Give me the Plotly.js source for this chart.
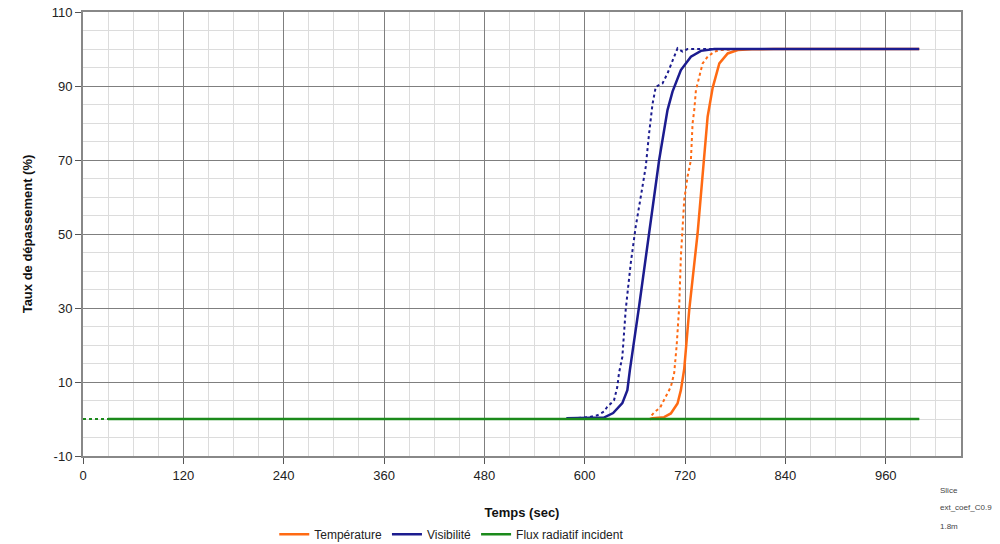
<!DOCTYPE html>
<html>
<head>
<meta charset="utf-8">
<script src="https://cdn.plot.ly/plotly-3.0.1.min.js"></script>
<style>html,body{margin:0;padding:0;background:#fff;}#chart{width:1000px;height:544px;}</style>
</head>
<body>
<div id="chart"></div>
<script>
// Temperature (solid)
const tempX = [678, 681, 695, 703, 711, 715, 719, 725, 735, 743, 747, 753, 761, 771, 783, 800, 826, 1000];
const tempY = [0, 0.2, 0.5, 1.5, 4.2, 7.8, 13.5, 29.5, 50.2, 70.9, 81.7, 89.5, 96.1, 98.8, 99.7, 99.9, 100, 100];
// Temperature (dotted)
const tempDotX = [680, 684, 690, 695, 699, 703, 707, 710, 713, 715, 719, 723, 727, 729, 731, 733, 735, 741, 747, 755, 763, 790, 1000];
const tempDotY = [1.0, 2.0, 3.0, 5.1, 6.9, 8.7, 12.4, 20, 30.4, 43.9, 59.2, 65.5, 70, 79.9, 83.5, 88.9, 90.7, 96.1, 97.9, 99.3, 99.7, 100, 100];
// Visibility (solid)
const visX = [578, 600, 623, 634, 645, 651, 654, 665, 677, 689, 699, 705, 715, 727, 739, 755, 1000];
const visY = [0.2, 0.2, 0.4, 1.6, 4.3, 7.8, 13.2, 30.4, 50.2, 70, 83.5, 88.5, 94.3, 97.9, 99.5, 100, 100];
// Visibility (dotted)
const visDotX = [592, 605, 615, 623, 627, 631, 635, 639, 641, 645, 649, 655, 661, 667, 673, 677, 681, 685, 693, 699, 705, 711, 717, 723, 760, 1000];
const visDotY = [0.3, 0.5, 1.0, 2.0, 3.3, 4.3, 5.0, 8.7, 12.4, 16.8, 29.5, 42, 52, 60, 68.2, 77.2, 85, 89.8, 90.7, 93.4, 97, 100.2, 99.3, 100, 100, 100];
// Flux radiatif incident
const fluxDotX = [0, 1000];
const fluxDotY = [0, 0];
const fluxX = [30, 1000];
const fluxY = [0, 0];

const names = ['Température', 'Visibilité', 'Flux radiatif incident'];
const yTickVals = [-10, 10, 30, 50, 70, 90, 110];
const yTickText = ['-10', '10', '30', '50', '70', '90', '110'];
const cOrange = '#ff6a13', cBlue = '#1c1c8f', cGreen = '#1b8a1b';

const traces = [
  {x: tempDotX, y: tempDotY, mode: 'lines', line: {color: cOrange, width: 2, dash: 'dot'}, showlegend: false, hoverinfo: 'skip'},
  {x: visDotX, y: visDotY, mode: 'lines', line: {color: cBlue, width: 2, dash: 'dot'}, showlegend: false, hoverinfo: 'skip'},
  {x: fluxDotX, y: fluxDotY, mode: 'lines', line: {color: cGreen, width: 2, dash: 'dot'}, showlegend: false, hoverinfo: 'skip'},
  {x: tempX, y: tempY, name: names[0], mode: 'lines', line: {color: cOrange, width: 2.5}},
  {x: visX, y: visY, name: names[1], mode: 'lines', line: {color: cBlue, width: 2.5}},
  {x: fluxX, y: fluxY, name: names[2], mode: 'lines', line: {color: cGreen, width: 2.5}}
];

const font = {family: 'Liberation Sans, Arial, sans-serif', color: '#222'};

const layout = {
  width: 1000, height: 544,
  margin: {l: 83, r: 39, t: 12, b: 88},
  paper_bgcolor: '#fff', plot_bgcolor: '#fff',
  font: font,
  showlegend: true,
  legend: {orientation: 'h', x: 0.42, xanchor: 'center', yref: 'container', y: 0.018, yanchor: 'middle',
           font: {family: font.family, size: 12, color: '#222'}, traceorder: 'normal', itemwidth: 30},
  xaxis: {
    range: [0, 1050], tick0: 0, dtick: 120, tickmode: 'linear', automargin: false,
    showgrid: true, gridcolor: '#7f7f7f', gridwidth: 1,
    minor: {dtick: 30, showgrid: true, gridcolor: '#dcdcdc', gridwidth: 1},
    showline: true, linecolor: '#888', linewidth: 2, mirror: true,
    ticks: 'outside', ticklen: 6, tickcolor: '#555',
    tickfont: {family: font.family, size: 13, color: '#222'},
    zeroline: false,
    title: {text: '<b>Temps (sec)</b>', font: {family: font.family, size: 13, color: '#111'}, standoff: 26}
  },
  yaxis: {
    range: [-10, 110], tickmode: 'array', tickvals: yTickVals, ticktext: yTickText, automargin: false,
    showgrid: true, gridcolor: '#7f7f7f', gridwidth: 1,
    minor: {dtick: 5, tick0: 0, showgrid: true, gridcolor: '#dcdcdc', gridwidth: 1},
    showline: true, linecolor: '#888', linewidth: 2, mirror: true,
    ticks: 'outside', ticklen: 6, tickcolor: '#555',
    tickfont: {family: font.family, size: 13, color: '#222'},
    zeroline: false,
    title: {text: '<b>Taux de dépassement (%)</b>', font: {family: font.family, size: 13, color: '#111'}, standoff: 16}
  },
  annotations: [
    {xref: 'paper', yref: 'paper', x: 0.974, y: -0.077, xanchor: 'left', yanchor: 'middle', text: 'Slice', showarrow: false, font: {family: font.family, size: 8, color: '#444'}},
    {xref: 'paper', yref: 'paper', x: 0.974, y: -0.117, xanchor: 'left', yanchor: 'middle', text: 'ext_coef_C0.9', showarrow: false, font: {family: font.family, size: 8, color: '#444'}},
    {xref: 'paper', yref: 'paper', x: 0.974, y: -0.158, xanchor: 'left', yanchor: 'middle', text: '1.8m', showarrow: false, font: {family: font.family, size: 8, color: '#444'}}
  ]
};

Plotly.newPlot('chart', traces, layout, {displayModeBar: false, staticPlot: true});
</script>
</body>
</html>
